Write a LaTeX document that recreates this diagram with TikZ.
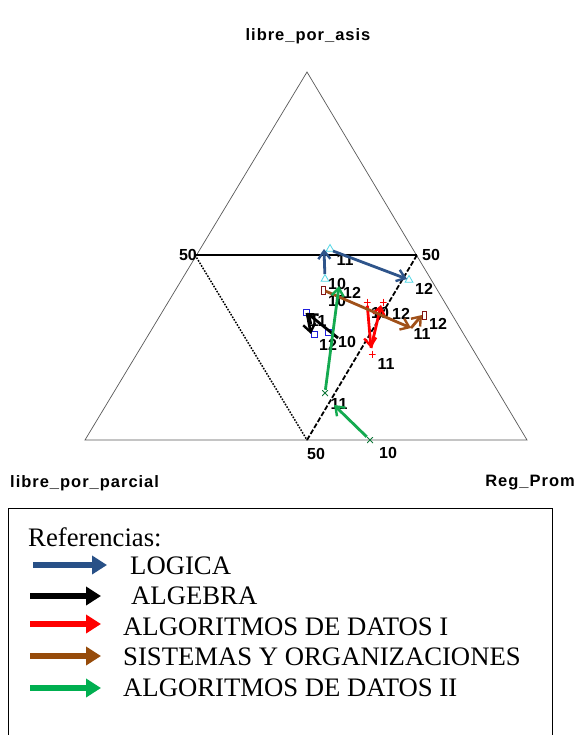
\documentclass[tikz,border=0pt]{standalone}
\usepackage{fontspec}
\setmainfont{Liberation Serif}
\newfontfamily\axfont{Liberation Sans}[LetterSpace=6]
\newfontfamily\numfont{Liberation Sans}
\usetikzlibrary{arrows.meta,shapes.geometric}
\definecolor{clog}{RGB}{46,84,138}
\definecolor{cbrown}{RGB}{160,80,25}
\definecolor{cgreen}{RGB}{20,170,80}
\definecolor{ccyan}{RGB}{80,215,230}
\definecolor{cmblue}{RGB}{30,30,220}
\definecolor{cmbrown}{RGB}{130,20,20}
\definecolor{lgblue}{RGB}{40,80,135}
\definecolor{lgbrown}{RGB}{150,75,10}
\definecolor{lggreen}{RGB}{0,175,80}
\begin{document}
\begin{tikzpicture}[x=1pt,y=-1pt,
  outer/.style={draw=black!65,line width=0.7pt},
  axlab/.style={font=\axfont\bfseries\fontsize{16.5}{16.5}\selectfont,inner sep=0pt},
  numlab/.style={font=\numfont\bfseries\fontsize{16}{16}\selectfont,inner sep=0pt},
  darrow/.style={line width=2.8pt,-{Straight Barb[length=8pt,width=12pt,line width=2.4pt]}},
  trimark/.style={regular polygon,regular polygon sides=3,draw=ccyan,line width=0.8pt,minimum size=9pt,inner sep=0pt},
  sqmark/.style={rectangle,draw=cmblue,line width=0.8pt,minimum size=6pt,inner sep=0pt},
  recmark/.style={rectangle,draw=cmbrown,line width=0.9pt,minimum width=4pt,minimum height=8pt,inner sep=0pt},
  plusmark/.style={inner sep=0pt,minimum size=7pt,path picture={\draw[red,line width=1pt]
     (path picture bounding box.north) -- (path picture bounding box.south)
     (path picture bounding box.west) -- (path picture bounding box.east);}},
  xmark/.style={inner sep=0pt,minimum size=6pt,path picture={\draw[cgreen!70!black,line width=0.9pt]
     (path picture bounding box.north west) -- (path picture bounding box.south east)
     (path picture bounding box.south west) -- (path picture bounding box.north east);}},
  legtext/.style={font=\fontsize{26.7}{26.7}\selectfont,anchor=west,inner sep=0pt},
  legarrow/.style={line width=6.5pt,-{Triangle[length=15pt,width=18pt]}}
]
\useasboundingbox (0,0) rectangle (577,735);
\fill[white] (0,0) rectangle (577,735);
% triangle vertices
\coordinate (A) at (307,72);
\coordinate (B) at (85,440);
\coordinate (C) at (527,440);
\coordinate (M1) at (195,255);
\coordinate (M2) at (417,255);
\coordinate (M3) at (307,440);
\draw[outer] (A) -- (B) -- (C) -- cycle;
\draw[line width=2pt] (M1) -- (M2);
\draw[line width=1.5pt,dash pattern=on 1.6pt off 1.4pt] (M1) -- (M3);
\draw[line width=1.8pt,dash pattern=on 5pt off 2pt] (M3) -- (M2);
% axis labels
\node[axlab] (tTop) at (308,36) {libre\_por\_asis};
\node[axlab,anchor=west] (tLeft) at (10,483) {libre\_por\_parcial};
\node[axlab,anchor=east] (tRight) at (575,483) {Reg\_Prom};
\node[numlab,anchor=east] (n50a) at (197,255) {50};
\node[numlab,anchor=west] (n50b) at (422,255) {50};
\node[numlab] (n50c) at (316,454) {50};
% point labels
\node[numlab] (lL11) at (345,260) {11};
\node[numlab] (lL12) at (424,289) {12};
\node[numlab] (lL10) at (337,284) {10};
\node[numlab] (lG12) at (352,293) {12};
\node[numlab] (lS10) at (337,301) {10};
\node[numlab] (lA11) at (318,321) {11};
\node[numlab] (lA12) at (328,345) {12};
\node[numlab] (lA10) at (347,342) {10};
\node[numlab] (lR10) at (380,313) {10};
\node[numlab] (lR12) at (401,314) {12};
\node[numlab] (lR11) at (386,364) {11};
\node[numlab] (lS12) at (438,324) {12};
\node[numlab] (lS11) at (422,334) {11};
\node[numlab] (lG11) at (339,404) {11};
\node[numlab] (lG10) at (388,453) {10};
% markers
\node[trimark] (L10) at (325,279) {};
\node[trimark] (L11) at (330,249) {};
\node[trimark] (L12) at (409,280) {};
\node[sqmark] (A11) at (306,312) {};
\node[sqmark] (A12) at (314,334) {};
\node[sqmark] (A10) at (328,332) {};
\node[plusmark] (R10) at (367,302) {};
\node[plusmark] (R12) at (383,302) {};
\node[plusmark] (R11) at (372,354) {};
\node[recmark] (S10) at (323,290) {};
\node[recmark] (S12) at (424,315) {};
\node[xmark] (G10) at (370,440) {};
\node[xmark] (G11) at (325,393) {};
% arrow ends
\coordinate (eL11) at (324,249);
\coordinate (sL11) at (333,251);
\coordinate (eL12) at (407,279);
\coordinate (sA10) at (338,338);
\coordinate (eA11) at (307,313);
\coordinate (eA12) at (311,334);
\coordinate (eR11) at (371,348);
\coordinate (eR12) at (381,305);
\coordinate (eS11) at (411,328);
\coordinate (eS12) at (422,315);
\coordinate (eG11) at (334,405);
\coordinate (eG12) at (339,286);
% LOGICA
\draw[darrow,clog] (L10) -- (eL11);
\draw[darrow,clog] (sL11) -- (eL12);
% ALGEBRA
\draw[darrow,black] (sA10) -- (eA11);
\draw[darrow,black] (eA11) -- (eA12);
% ALGORITMOS DE DATOS I
\draw[darrow,red] (R10) -- (eR11);
\draw[darrow,red] (eR11) -- (eR12);
% SISTEMAS
\draw[darrow,cbrown] (S10) -- (eS11);
\draw[darrow,cbrown] (eS11) -- (eS12);
% ALGORITMOS DE DATOS II
\draw[darrow,cgreen] (G10) -- (eG11);
\draw[darrow,cgreen] (G11) -- (eG12);
% legend
\draw[line width=0.8pt] (8,740) -- (8,508) -- (552,508) -- (552,740);
\node[legtext] (tRef) at (28,537) {Referencias:};
\node[legtext] (tLog) at (130,566) {LOGICA};
\node[legtext] (tAlg) at (131,596) {ALGEBRA};
\node[legtext] (tAd1) at (123,627) {ALGORITMOS DE DATOS I};
\node[legtext] (tSis) at (123,657) {SISTEMAS Y ORGANIZACIONES};
\node[legtext] (tAd2) at (123,688) {ALGORITMOS DE DATOS II};
\coordinate (gL1) at (33,565); \coordinate (gL2) at (107,565);
\coordinate (gA1) at (30,596); \coordinate (gA2) at (101,596);
\coordinate (gR1) at (30,624); \coordinate (gR2) at (101,624);
\coordinate (gS1) at (30,656); \coordinate (gS2) at (101,656);
\coordinate (gG1) at (30,688); \coordinate (gG2) at (101,688);
\draw[legarrow,lgblue] (gL1) -- (gL2);
\draw[legarrow,black] (gA1) -- (gA2);
\draw[legarrow,red] (gR1) -- (gR2);
\draw[legarrow,lgbrown] (gS1) -- (gS2);
\draw[legarrow,lggreen] (gG1) -- (gG2);
\end{tikzpicture}
\end{document}
